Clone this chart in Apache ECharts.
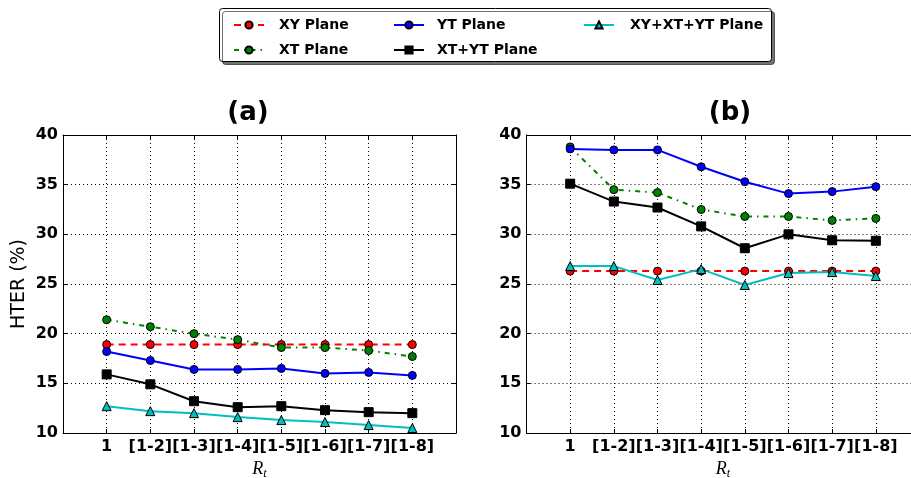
<!DOCTYPE html>
<html>
<head>
<meta charset="utf-8">
<script src="https://cdn.jsdelivr.net/npm/echarts@6/dist/echarts.min.js"></script>
<style>
html,body{margin:0;padding:0;background:#fff;}
#chart{width:911px;height:478px;}
</style>
</head>
<body>
<div id="chart"></div>
<script>
// ---- data ----
var categories = ['1','[1-2]','[1-3]','[1-4]','[1-5]','[1-6]','[1-7]','[1-8]'];
var seriesNames = ['XY Plane','XT Plane','YT Plane','XT+YT Plane','XY+XT+YT Plane'];
var yTicks = [10,15,20,25,30,35,40];

var xyA   = [18.9,18.9,18.9,18.9,18.9,18.9,18.9,18.9];
var xtA   = [21.4,20.7,20.0,19.4,18.6,18.6,18.3,17.7];
var ytA   = [18.2,17.3,16.4,16.4,16.5,16.0,16.1,15.8];
var xtytA = [15.9,14.9,13.2,12.6,12.7,12.3,12.1,12.0];
var allA  = [12.7,12.2,12.0,11.6,11.3,11.1,10.8,10.5];

var xyB   = [26.3,26.3,26.3,26.3,26.3,26.3,26.3,26.3];
var xtB   = [38.8,34.5,34.2,32.5,31.8,31.8,31.4,31.6];
var ytB   = [38.6,38.5,38.5,36.8,35.3,34.1,34.3,34.8];
var xtytB = [35.1,33.3,32.7,30.8,28.6,30.0,29.4,29.35];
var allB  = [26.8,26.8,25.4,26.5,24.9,26.1,26.2,25.8];

// ---- styles ----
var FONT = 'DejaVu Sans';
var styles = [
  {color:'#ff0000', type:[7,5],       symbol:'circle',   size:8},
  {color:'#008000', type:[5,5,1.5,5], symbol:'circle',   size:8},
  {color:'#0000ff', type:'solid',     symbol:'circle',   size:8},
  {color:'#000000', type:'solid',     symbol:'rect',     size:9},
  {color:'#00bfbf', type:'solid',     symbol:'triangle', size:9}
];

function toPoints(arr){ return arr.map(function(v,i){ return [i+1, v]; }); }

function makeSeries(name, idx, arr, grid){
  var s = styles[idx];
  return {
    name: name, type:'line', xAxisIndex: grid, yAxisIndex: grid,
    data: toPoints(arr),
    symbol: s.symbol, symbolSize: s.size, showSymbol: true,
    lineStyle: {color: s.color, width: 2, type: s.type},
    itemStyle: {color: s.color, borderColor:'#000', borderWidth: 1},
    emphasis: {disabled: true},
    animation: false
  };
}

var dataA = [xyA, xtA, ytA, xtytA, allA];
var dataB = [xyB, xtB, ytB, xtytB, allB];
var series = [];
seriesNames.forEach(function(n,i){ series.push(makeSeries(n,i,dataA[i],0)); });
seriesNames.forEach(function(n,i){ series.push(makeSeries(n,i,dataB[i],1)); });

function mainX(grid){
  return {
    type:'value', gridIndex: grid, min:0, max:9, interval:1, position:'bottom',
    name:'{i|R}{s|t}', nameLocation:'middle', nameGap: 22,
    nameTextStyle:{rich:{
      i:{fontFamily:'Liberation Serif', fontStyle:'italic', fontSize:18, lineHeight:22, color:'#000'},
      s:{fontFamily:'Liberation Serif', fontStyle:'italic', fontSize:12, lineHeight:22, verticalAlign:'bottom', padding:[8,0,0,0], color:'#000'}
    }},
    axisLine:{show:true, onZero:false, lineStyle:{color:'#000', width:1}},
    axisTick:{show:true, inside:true, length:4, lineStyle:{color:'#000'}},
    axisLabel:{show:true, margin:6, color:'#000', fontFamily:FONT, fontWeight:'bold', fontSize:16,
      formatter:function(v){ var k = Math.round(v); return (k>=1 && k<=categories.length) ? categories[k-1] : ''; }},
    splitLine:{show:true, lineStyle:{color:'#000', type:[1,3], width:1}}
  };
}
function topX(grid){
  return {
    type:'value', gridIndex: grid, min:0, max:9, interval:1, position:'top',
    axisLine:{show:true, onZero:false, lineStyle:{color:'#000', width:1}},
    axisTick:{show:true, inside:true, length:4, lineStyle:{color:'#000'}},
    axisLabel:{show:false}, splitLine:{show:false}
  };
}
function mainY(grid, withName){
  var o = {
    type:'value', gridIndex: grid, min:yTicks[0], max:yTicks[yTicks.length-1], interval:5, position:'left',
    axisLine:{show:true, onZero:false, lineStyle:{color:'#000', width:1}},
    axisTick:{show:true, inside:true, length:4, lineStyle:{color:'#000'}},
    axisLabel:{show:true, margin:5, color:'#000', fontFamily:FONT, fontWeight:'bold', fontSize:16},
    splitLine:{show:true, lineStyle:{color:'#000', type:[1,3], width:1}}
  };
  if (withName){
    o.name = 'HTER (%)'; o.nameLocation = 'middle'; o.nameGap = 34;
    o.nameTextStyle = {fontFamily:FONT, fontSize:19, color:'#000'};
  }
  return o;
}
function rightY(grid){
  return {
    type:'value', gridIndex: grid, min:yTicks[0], max:yTicks[yTicks.length-1], interval:5, position:'right',
    axisLine:{show:true, onZero:false, lineStyle:{color:'#000', width:1}},
    axisTick:{show:true, inside:true, length:4, lineStyle:{color:'#000'}},
    axisLabel:{show:false}, splitLine:{show:false}
  };
}

function legendCol(names, left, pad){
  return {
    orient:'vertical', top:13, left:left, itemWidth:30, itemHeight:9, itemGap:11,
    selectedMode:false, data:names,
    textStyle:{fontFamily:FONT, fontWeight:'bold', fontSize:14, color:'#000', padding:[0,0,0,pad], lineHeight:14}
  };
}

var option = {
  backgroundColor:'#fff',
  animation:false,
  grid:[
    {left:63, top:135, width:393, height:298, containLabel:false, outerBoundsMode:'none'},
    {left:526.5, top:135, width:393, height:298, containLabel:false, outerBoundsMode:'none'}
  ],
  xAxis:[mainX(0), mainX(1), topX(0), topX(1)],
  yAxis:[mainY(0,true), mainY(1,false), rightY(0), rightY(1)],
  legend:[
    legendCol([seriesNames[0], seriesNames[1]], 228, 10),
    legendCol([seriesNames[2], seriesNames[3]], 388, 8),
    legendCol([seriesNames[4]], 578, 11)
  ],
  graphic:[
    {type:'rect', z:-1, shape:{x:219.5, y:8.5, width:552, height:53, r:3},
     style:{fill:'#fff', stroke:'#000', lineWidth:1, shadowColor:'rgba(0,0,0,0.55)', shadowOffsetX:3, shadowOffsetY:3, shadowBlur:0}},
    {type:'text', x:248, y:113, style:{text:'(a)', font:'bold 26px "DejaVu Sans"', fill:'#000', textAlign:'center', textVerticalAlign:'middle'}},
    {type:'text', x:730, y:113, style:{text:'(b)', font:'bold 26px "DejaVu Sans"', fill:'#000', textAlign:'center', textVerticalAlign:'middle'}}
  ],
  series: series
};

var chart = echarts.init(document.getElementById('chart'), null, {renderer:'canvas'});
chart.setOption(option);
</script>
</body>
</html>
